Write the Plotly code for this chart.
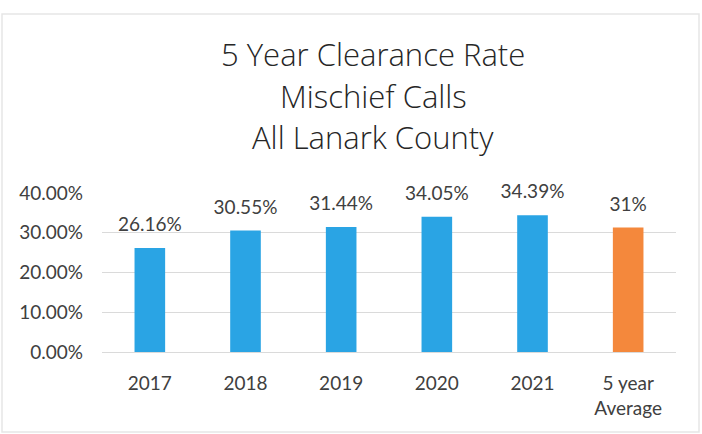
import plotly.graph_objects as go

categories = ["2017", "2018", "2019", "2020", "2021", "5 year<br>Average"]
rates = [0.2616, 0.3055, 0.3144, 0.3405, 0.3439, 0.3132]
labels = ["26.16%", "30.55%", "31.44%", "34.05%", "34.39%", "31%"]
bar_colors = ["#2AA4E4", "#2AA4E4", "#2AA4E4", "#2AA4E4", "#2AA4E4", "#F4883C"]
title_lines = ["5 Year Clearance Rate", "Mischief Calls", "All Lanark County"]
tick_vals = [0, 0.1, 0.2, 0.3, 0.4]
tick_text = ["0.00%", "10.00%", "20.00%", "30.00%", "40.00%"]

FONT = "Lato"
TITLE_FONT = "Open Sans"
TXT = "#404040"

fig = go.Figure()
fig.add_trace(go.Bar(
    x=categories, y=rates,
    marker=dict(color=bar_colors, line=dict(width=0)),
    width=0.32, hoverinfo="skip",
))
fig.add_trace(go.Scatter(
    x=categories, y=rates, text=labels, mode="markers+text",
    marker=dict(size=18, opacity=0),
    textposition="top center",
    textfont=dict(family=FONT, size=19, color=TXT),
    cliponaxis=False, hoverinfo="skip",
))

for i, line in enumerate(title_lines):
    fig.add_annotation(
        text=line, xref="paper", yref="paper", x=(373 - 102) / 574,
        y=(352 - 54 - 41.5 * i) / 159,
        showarrow=False, font=dict(family=TITLE_FONT, size=31, color="#262626", weight=300),
        xanchor="center", yanchor="middle",
    )

fig.add_shape(type="rect", xref="paper", yref="paper",
              x0=-100 / 574, x1=(699 - 102) / 574, y0=-80 / 159, y1=(352 - 14) / 159,
              line=dict(color="#E6E6E6", width=1.5))

fig.update_layout(
    width=702, height=434,
    margin=dict(l=102, r=26, t=193, b=82),
    paper_bgcolor="white", plot_bgcolor="white",
    showlegend=False,
    font=dict(family=FONT, color=TXT),
    xaxis=dict(showgrid=False, showline=False, ticks="",
               tickfont=dict(family=FONT, size=19, color=TXT),
               ticklabelstandoff=18),
    yaxis=dict(range=[0, 0.4], tickvals=tick_vals, ticktext=tick_text,
               showgrid=True, gridcolor="#DADADA", gridwidth=1,
               zeroline=True, zerolinecolor="#DADADA", zerolinewidth=1,
               tickfont=dict(family=FONT, size=19, color=TXT),
               ticklabelstandoff=18),
)

fig.write_html("out.html", config={"displayModeBar": False},
               post_script="document.body.style.margin='0';")
